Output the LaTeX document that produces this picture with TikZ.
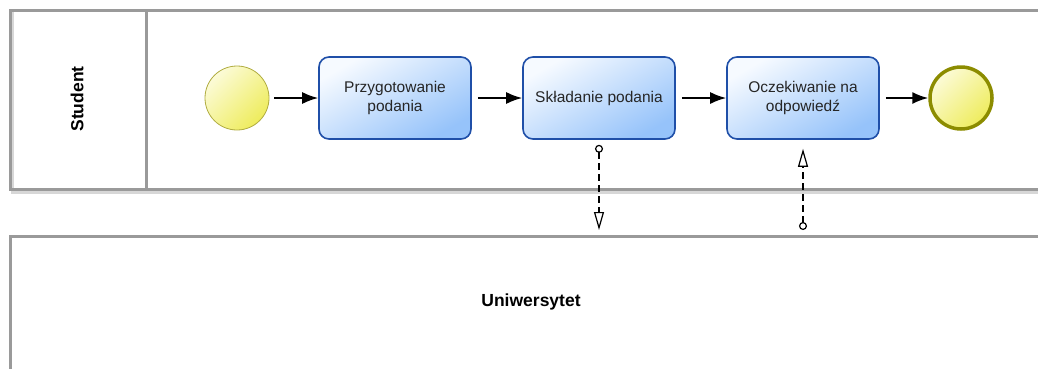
\documentclass[tikz,border=0pt]{standalone}
\usepackage{fontspec}
\setmainfont{Liberation Sans}
\usetikzlibrary{arrows.meta}
\definecolor{poolgray}{HTML}{9A9A9A}
\definecolor{taskblue}{HTML}{1F4FA8}
\definecolor{taskfill}{HTML}{96C3FA}
\definecolor{tasktop}{HTML}{F6FAFF}
\definecolor{evborder}{HTML}{B0AC40}
\definecolor{evend}{HTML}{8C8C00}
\definecolor{evfill}{HTML}{EEEC5C}
\definecolor{evtop}{HTML}{FCFBD8}
\tikzset{
  pool/.style={draw=poolgray, line width=3pt},
  task/.style={draw=taskblue, line width=1.6pt, rounded corners=10pt,
    minimum width=152pt, minimum height=82pt, align=center,
    top color=tasktop, bottom color=taskfill, shading angle=30,
    font=\fontsize{15.5}{19}\selectfont, text=black!85},
  startev/.style={circle, draw=evborder, line width=0.8pt, minimum size=64pt,
    top color=evtop, bottom color=evfill, shading angle=45},
  endev/.style={circle, draw=evend, line width=3.5pt, minimum size=62pt,
    top color=evtop, bottom color=evfill, shading angle=45},
  seq/.style={-{Latex[length=16pt,width=12pt]}, line width=1.8pt},
  msg/.style={{Circle[open,length=8pt,width=8pt,line width=1.2pt]}-{Triangle[open,length=18pt,width=10pt,line width=1.2pt]}, line width=2pt, dash pattern=on 7pt off 4pt},
  plabel/.style={font=\bfseries\fontsize{17.5}{20}\selectfont}
}
\begin{document}
\begin{tikzpicture}[x=1pt,y=-1pt]
\useasboundingbox (0,0) rectangle (1038,368);
% pools
\draw[poolgray!40, line width=3pt] (1040,192) -- (12,192) -- (12,12);
\draw[pool] (1045,10) -- (10,10) -- (10,189) -- (1045,189);
\draw[pool] (146,10) -- (146,189);
\node[plabel, rotate=90] (student) at (77,99) {Student};
\draw[pool] (10,375) -- (10,236) -- (1045,236);
\node[plabel] (uni) at (531,302) {Uniwersytet};
% nodes
\node[startev] (start) at (237,98) {};
\node[task] (t1) at (395,98) {Przygotowanie\\podania};
\node[task] (t2) at (599,98) {Składanie podania};
\node[task] (t3) at (803,98) {Oczekiwanie na\\odpowiedź};
\node[endev] (end) at (961,98) {};
\coordinate (m1) at (599,230);
\coordinate (m2) at (803,230);
% flows
\draw[seq] ([xshift=5pt]start.east) -- (t1.west);
\draw[seq] ([xshift=6pt]t1.east) -- (t2.west);
\draw[seq] ([xshift=6pt]t2.east) -- (t3.west);
\draw[seq] ([xshift=6pt]t3.east) -- (end.west);
\draw[msg] ([yshift=-5pt]t2.south) -- (m1);
\draw[msg] (m2) -- ([yshift=-9pt]t3.south);
\end{tikzpicture}
\end{document}
